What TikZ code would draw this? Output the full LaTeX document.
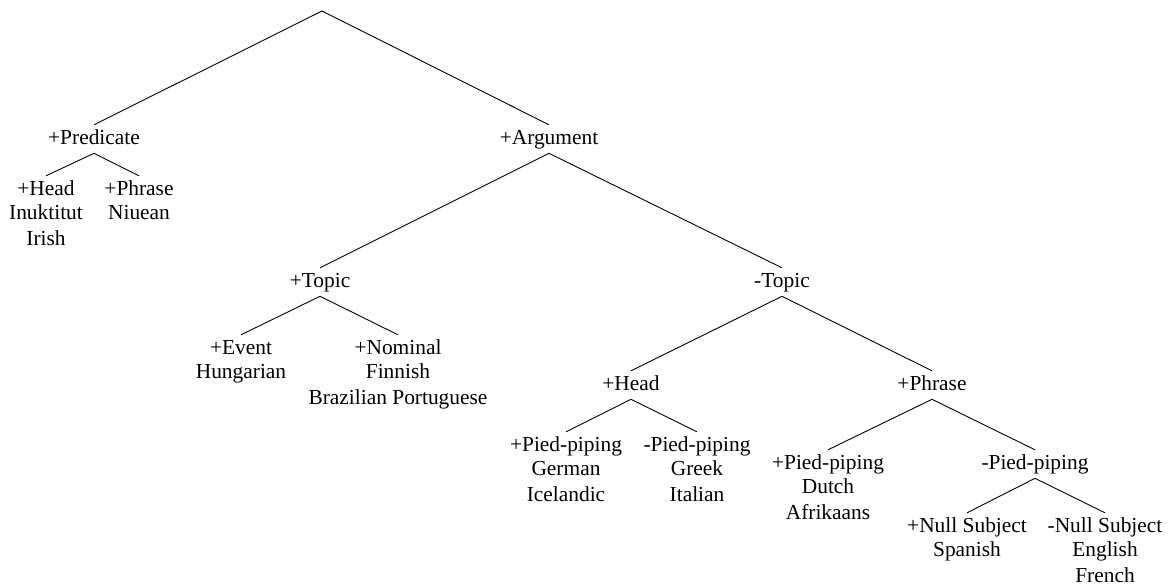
\documentclass[tikz,border=0pt]{standalone}
\usepackage{fontspec}
\setmainfont{Liberation Serif}
\begin{document}
\begin{tikzpicture}[x=1pt,y=-1pt,
  lab/.style={anchor=base, inner xsep=0pt, inner ysep=4.5pt, text height=14.5pt, text depth=4.6pt, font=\fontsize{21.4}{25.8}\selectfont},
  langs/.style={anchor=north, inner sep=0pt, align=center, font=\fontsize{21.4}{25.8}\selectfont, yshift=2.6pt},
  edge/.style={draw=black, line width=0.9pt}]
\useasboundingbox (0,0) rectangle (1174,584);
\coordinate (root) at (322,11);
\node[lab] (pred) at (94,144) {+Predicate};
\node[lab] (arg) at (549,144) {+Argument};
\node[lab] (phead) at (46,195) {+Head};
\node[langs] (pheadL) at (phead.south) {\strut Inuktitut\\Irish};
\node[lab] (pphrase) at (139,195) {+Phrase};
\node[langs] (pphraseL) at (pphrase.south) {\strut Niuean};
\node[lab] (ptopic) at (320,287) {+Topic};
\node[lab] (ntopic) at (782,287) {-Topic};
\node[lab] (event) at (241,354) {+Event};
\node[langs] (eventL) at (event.south) {\strut Hungarian};
\node[lab] (nominal) at (398,354) {+Nominal};
\node[langs] (nominalL) at (nominal.south) {\strut Finnish\\Brazilian Portuguese};
\node[lab] (head) at (631,390) {+Head};
\node[lab] (phrase) at (932,390) {+Phrase};
\node[lab] (hpp) at (566,451) {+Pied-piping};
\node[langs] (hppL) at (hpp.south) {\strut German\\Icelandic};
\node[lab] (hnpp) at (697,451) {-Pied-piping};
\node[langs] (hnppL) at (hnpp.south) {\strut Greek\\Italian};
\node[lab] (rpp) at (828,469) {+Pied-piping};
\node[langs] (rppL) at (rpp.south) {\strut Dutch\\Afrikaans};
\node[lab] (rnpp) at (1035,469) {-Pied-piping};
\node[lab] (ns) at (967,532) {+Null Subject};
\node[langs] (nsL) at (ns.south) {\strut Spanish};
\node[lab] (nns) at (1105,532) {-Null Subject};
\node[langs] (nnsL) at (nns.south) {\strut English\\French};
\draw[edge] (root) -- (pred.north);
\draw[edge] (root) -- (arg.north);
\draw[edge] (pred.south) -- (phead.north);
\draw[edge] (pred.south) -- (pphrase.north);
\draw[edge] (arg.south) -- (ptopic.north);
\draw[edge] (arg.south) -- (ntopic.north);
\draw[edge] (ptopic.south) -- (event.north);
\draw[edge] (ptopic.south) -- (nominal.north);
\draw[edge] (ntopic.south) -- (head.north);
\draw[edge] (ntopic.south) -- (phrase.north);
\draw[edge] (head.south) -- (hpp.north);
\draw[edge] (head.south) -- (hnpp.north);
\draw[edge] (phrase.south) -- (rpp.north);
\draw[edge] (phrase.south) -- (rnpp.north);
\draw[edge] (rnpp.south) -- (ns.north);
\draw[edge] (rnpp.south) -- (nns.north);
\end{tikzpicture}
\end{document}
